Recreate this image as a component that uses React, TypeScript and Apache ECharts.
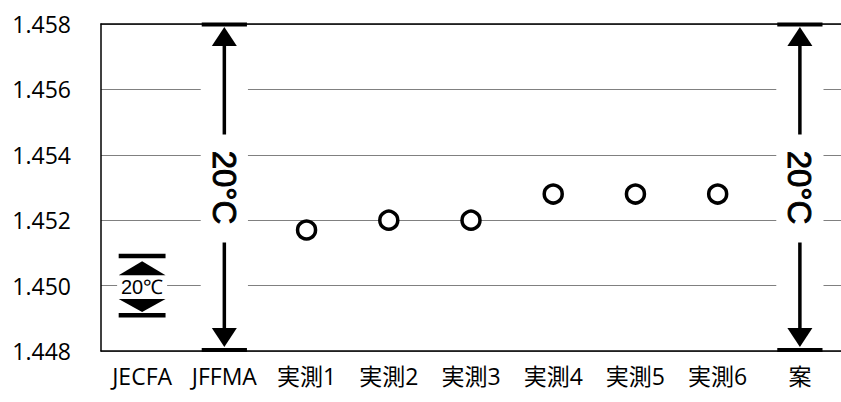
import React, { useEffect, useRef } from "react";
import * as echarts from "echarts";

const categories = ["JECFA", "JFFMA", "実測1", "実測2", "実測3", "実測4", "実測5", "実測6", "案"];
const measuredCategories = ["実測1", "実測2", "実測3", "実測4", "実測5", "実測6"];
const measuredValues = [1.4517, 1.452, 1.452, 1.4528, 1.4528, 1.4528];
const rangeCategories = ["JECFA", "JFFMA", "案"];
const rangeLow = [1.4491, 1.448, 1.448];
const rangeHigh = [1.4509, 1.458, 1.458];
const rangeLabels = ["20℃", "20°C", "20°C"];
const yMin = 1.448;
const yMax = 1.458;
const yInterval = 0.002;

export default function App() {
  const ref = useRef<HTMLDivElement>(null);
  useEffect(() => {
    if (!ref.current) return;
    const chart = echarts.init(ref.current, null, { renderer: "svg" });
    const rangeData = rangeCategories.map((c, i) => [categories.indexOf(c), rangeLow[i], rangeHigh[i], i]);
    const labelFont = "'Open Sans', sans-serif";
    chart.setOption({
      animation: false,
      backgroundColor: "#fff",
      grid: { left: 101, top: 24, bottom: 51, width: 750 },
      xAxis: [
        {
          type: "category",
          data: categories,
          axisLine: { show: true, lineStyle: { color: "#000", width: 1.5 } },
          axisTick: { show: false },
          axisLabel: {
            color: "#000",
            fontSize: 23,
            fontFamily: "'Open Sans', 'Noto Sans CJK JP', sans-serif",
            margin: 13,
            interval: 0,
          },
          splitLine: { show: false },
        },
        {
          type: "category",
          data: categories,
          position: "top",
          axisLine: { show: true, lineStyle: { color: "#000", width: 1.5 } },
          axisTick: { show: false },
          axisLabel: { show: false },
          splitLine: { show: false },
        },
      ],
      yAxis: {
        type: "value",
        min: yMin,
        max: yMax,
        interval: yInterval,
        axisLine: { show: true, lineStyle: { color: "#000", width: 1.5 } },
        axisTick: { show: false },
        axisLabel: {
          color: "#000",
          fontSize: 23,
          fontFamily: labelFont,
          margin: 30,
          formatter: (v: number) => v.toFixed(3),
        },
        splitLine: { show: true, lineStyle: { color: "#808080", width: 1 } },
      },
      series: [
        {
          type: "custom",
          xAxisIndex: 0,
          z: 3,
          clip: false,
          data: rangeData,
          renderItem: (params: any, api: any) => {
            const cat = api.value(0);
            const low = api.value(1);
            const high = api.value(2);
            const idx = api.value(3);
            const top = api.coord([cat, high]);
            const bot = api.coord([cat, low]);
            const cx = top[0];
            const bw = api.size([1, 0])[0];
            const capW = bw * 0.55;
            const children: any[] = [];
            const big = high - low > 0.005;
            if (big) {
              const midY = (top[1] + bot[1]) / 2;
              children.push({
                type: "rect",
                shape: { x: cx - capW / 2 - 1, y: top[1] + 3, width: capW + 2, height: bot[1] - top[1] - 6 },
                style: { fill: "#fff" },
              });
              children.push({
                type: "rect",
                shape: { x: cx - capW / 2, y: top[1] - 1.5, width: capW, height: 4 },
                style: { fill: "#000" },
              });
              children.push({
                type: "rect",
                shape: { x: cx - capW / 2, y: bot[1] - 3, width: capW, height: 4 },
                style: { fill: "#000" },
              });
              const triW = 25;
              const triH = 19;
              children.push({
                type: "polygon",
                shape: { points: [[cx, top[1] + 3], [cx - triW / 2, top[1] + 3 + triH], [cx + triW / 2, top[1] + 3 + triH]] },
                style: { fill: "#000" },
              });
              children.push({
                type: "polygon",
                shape: { points: [[cx, bot[1] - 4], [cx - triW / 2, bot[1] - 4 - triH], [cx + triW / 2, bot[1] - 4 - triH]] },
                style: { fill: "#000" },
              });
              children.push({
                type: "line",
                shape: { x1: cx, y1: top[1] + 3 + triH, x2: cx, y2: midY - 53 },
                style: { stroke: "#000", lineWidth: 3.5 },
              });
              children.push({
                type: "line",
                shape: { x1: cx, y1: midY + 55, x2: cx, y2: bot[1] - 4 - triH },
                style: { stroke: "#000", lineWidth: 3.5 },
              });
              children.push({
                type: "text",
                x: cx,
                y: midY,
                rotation: -Math.PI / 2,
                style: {
                  text: rangeLabels[idx],
                  fontSize: 33,
                  fontFamily: "'Liberation Sans', Arial, sans-serif",
                  fill: "#000",
                  stroke: "#000",
                  lineWidth: 0.9,
                  align: "center",
                  verticalAlign: "middle",
                },
              });
            } else {
              const midY = (top[1] + bot[1]) / 2;
              const smallW = bw * 0.57;
              children.push({
                type: "rect",
                shape: { x: cx - smallW / 2, y: top[1] - 2.5, width: smallW, height: 4.5 },
                style: { fill: "#000" },
              });
              children.push({
                type: "rect",
                shape: { x: cx - smallW / 2, y: bot[1] - 2, width: smallW, height: 4.5 },
                style: { fill: "#000" },
              });
              children.push({
                type: "polygon",
                shape: { points: [[cx, top[1] + 5], [cx - smallW / 2, top[1] + 19], [cx + smallW / 2, top[1] + 19]] },
                style: { fill: "#000" },
              });
              children.push({
                type: "polygon",
                shape: { points: [[cx, bot[1] - 3], [cx - smallW / 2, bot[1] - 16], [cx + smallW / 2, bot[1] - 16]] },
                style: { fill: "#000" },
              });
              children.push({
                type: "rect",
                shape: { x: cx - 25, y: midY - 8, width: 50, height: 16 },
                style: { fill: "#fff" },
              });
              children.push({
                type: "text",
                x: cx,
                y: midY + 1,
                style: {
                  text: rangeLabels[idx],
                  fontSize: 20,
                  fontFamily: "'Liberation Sans', Arial, sans-serif",
                  fill: "#000",
                  align: "center",
                  verticalAlign: "middle",
                },
              });
            }
            return { type: "group", children };
          },
        },
        {
          type: "scatter",
          xAxisIndex: 0,
          z: 4,
          data: measuredCategories.map((c, i) => [c, measuredValues[i]]),
          symbol: "circle",
          symbolSize: 18,
          itemStyle: { color: "#fff", borderColor: "#000", borderWidth: 3.5, opacity: 1 },
        },
      ],
    });
    return () => chart.dispose();
  }, []);
  return <div ref={ref} style={{ width: 841, height: 402, position: "absolute", left: 0, top: 0 }} />;
}
